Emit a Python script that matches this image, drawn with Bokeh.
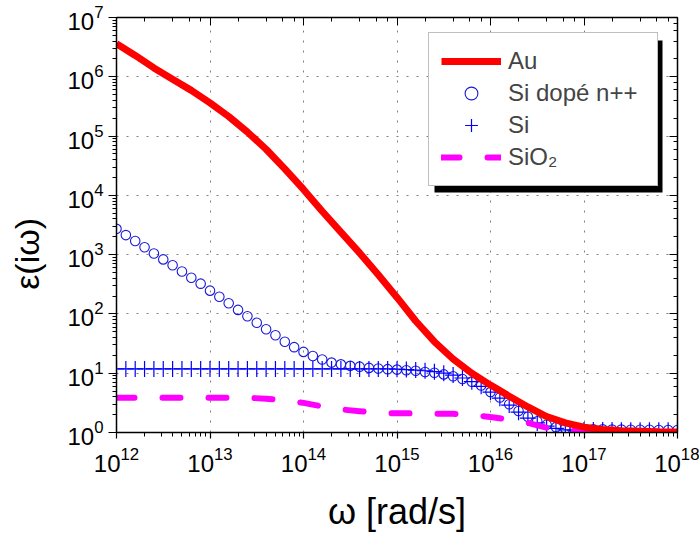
import numpy as np
from bokeh.plotting import figure
from bokeh.models import LogAxis, Legend, LegendItem, BoxAnnotation, Range1d
from bokeh.embed import file_html
from bokeh.resources import INLINE

# ---- data ----
# Au: exponents of omega (step 0.2 decade) and epsilon(i omega)
au_log_omega = [12.0, 12.2, 12.4, 12.6, 12.8, 13.0, 13.2, 13.4, 13.6, 13.8,
                14.0, 14.2, 14.4, 14.6, 14.8, 15.0, 15.2, 15.4, 15.6, 15.8,
                16.0, 16.2, 16.4, 16.6, 16.8, 17.0, 17.2, 17.4, 17.6, 17.8, 18.0]
au_eps = [3.63e6, 2.29e6, 1.41e6, 9.1e5, 5.9e5, 3.63e5, 2.14e5, 1.17e5, 6.0e4, 2.8e4,
          1.26e4, 5.4e3, 2.4e3, 1.07e3, 457, 190, 76, 34, 17.4, 10.0,
          6.3, 4.1, 2.7, 1.86, 1.45, 1.23, 1.12, 1.07, 1.05, 1.03, 1.02]

# Si dope n++ and Si: exponents of omega (step 0.1 decade)
si_log_omega = [12.0, 12.1, 12.2, 12.3, 12.4, 12.5, 12.6, 12.7, 12.8, 12.9,
                13.0, 13.1, 13.2, 13.3, 13.4, 13.5, 13.6, 13.7, 13.8, 13.9,
                14.0, 14.1, 14.2, 14.3, 14.4, 14.5, 14.6, 14.7, 14.8, 14.9,
                15.0, 15.1, 15.2, 15.3, 15.4, 15.5, 15.6, 15.7, 15.8, 15.9,
                16.0, 16.1, 16.2, 16.3, 16.4, 16.5, 16.6, 16.7, 16.8, 16.9,
                17.0, 17.1, 17.2, 17.3, 17.4, 17.5, 17.6, 17.7, 17.8, 17.9, 18.0]
sidop_eps = [2723, 2138, 1698, 1334, 1047, 832, 661, 519, 407, 324,
             247, 195, 151, 117, 91.2, 70.8, 55.0, 43.6, 33.9, 27.5,
             22.9, 19.5, 17.0, 15.1, 14.1, 13.3, 12.9, 12.3, 12.0, 11.7,
             11.5, 11.2, 11.0, 10.5, 10.2, 9.55, 8.9, 8.0, 7.2, 6.2,
             4.8, 3.9, 3.0, 2.3, 1.84, 1.55, 1.35, 1.23, 1.17, 1.15,
             1.14, 1.13, 1.13, 1.12, 1.12, 1.11, 1.11, 1.11, 1.10, 1.10, 1.10]
si_eps = [11.8, 11.8, 11.8, 11.8, 11.8, 11.8, 11.8, 11.8, 11.8, 11.8,
          11.8, 11.8, 11.8, 11.8, 11.8, 11.8, 11.8, 11.8, 11.8, 11.8,
          11.8, 11.8, 11.8, 11.8, 11.8, 11.8, 11.8, 11.8, 11.8, 11.8,
          11.7, 11.5, 11.3, 11.0, 10.6, 10.0, 9.3, 8.3, 7.2, 6.0,
          4.8, 3.8, 2.9, 2.2, 1.75, 1.45, 1.28, 1.17, 1.11, 1.10,
          1.10, 1.10, 1.10, 1.10, 1.09, 1.09, 1.09, 1.09, 1.09, 1.09, 1.09]

# SiO2: exponents of omega (step 0.2 decade)
sio2_log_omega = au_log_omega
sio2_eps = [3.85, 3.85, 3.85, 3.85, 3.85, 3.85, 3.85, 3.85, 3.72, 3.47,
            3.16, 2.75, 2.45, 2.29, 2.14, 2.11, 2.10, 2.08, 2.07, 2.00,
            1.82, 1.66, 1.45, 1.20, 1.11, 1.07, 1.05, 1.04, 1.03, 1.02, 1.02]

labels = ["Au", "Si dopé n++", "Si", "SiO₂"]
x_title = "ω [rad/s]"
y_title = "ε(iω)"

au_w = [10 ** v for v in au_log_omega]
si_w = [10 ** v for v in si_log_omega]
sio2_w = [10 ** v for v in sio2_log_omega]

FONT = "Liberation Sans"

p = figure(width=699, height=538, x_axis_type="log", y_axis_type="log",
           x_range=Range1d(1e12, 1e18), y_range=Range1d(1, 1e7),
           output_backend="svg", toolbar_location=None,
           min_border_left=116, min_border_right=22, min_border_top=17, min_border_bottom=106)
p.outline_line_color = None
p.background_fill_color = "white"
p.border_fill_color = "white"

for ax in (p.xaxis[0], p.yaxis[0]):
    ax.axis_line_width = 1.5
    ax.axis_line_color = "black"
    ax.major_tick_line_color = "black"
    ax.minor_tick_line_color = "black"
    ax.major_tick_line_width = 1.2
    ax.minor_tick_line_width = 1
    ax.major_tick_in = 0
    ax.minor_tick_in = 0
    ax.major_label_text_font = FONT
    ax.major_label_text_font_size = "24px"
    ax.major_label_text_color = "black"
    ax.axis_label_text_font = FONT
    ax.axis_label_text_font_style = "normal"
    ax.axis_label_text_color = "black"
p.xaxis.major_tick_out = 6
p.xaxis.minor_tick_out = 4
p.xaxis.major_label_standoff = 8
p.yaxis.major_tick_out = 8
p.yaxis.minor_tick_out = 4
p.yaxis.major_label_standoff = 5

p.xaxis.axis_label = x_title
p.xaxis.axis_label_text_font_size = "36px"
p.xaxis.axis_label_standoff = 16
p.yaxis.axis_label = y_title + "\u2003\u2002\u2009"
p.yaxis.axis_label_text_font_size = "34px"
p.yaxis.axis_label_standoff = 18

for loc in ("above", "right"):
    ax = LogAxis()
    ax.axis_line_width = 1.5
    ax.axis_line_color = "black"
    ax.major_tick_line_color = "black"
    ax.minor_tick_line_color = "black"
    ax.major_tick_in = 8
    ax.major_tick_out = 0
    ax.minor_tick_in = 4
    ax.minor_tick_out = 0
    ax.major_label_text_font_size = "2px"
    ax.major_label_text_alpha = 0
    ax.major_label_standoff = 0
    p.add_layout(ax, loc)

for g in (p.xgrid[0], p.ygrid[0]):
    g.grid_line_color = "#808080"
    g.grid_line_dash = "2 8"
    g.grid_line_width = 1
    g.minor_grid_line_color = None

r_dop = p.scatter(si_w, sidop_eps, marker="circle", size=9.5, fill_color=None,
                  line_color="#1a1ad8", line_width=1.1)
r_si = p.scatter(si_w, si_eps, marker="cross", size=16, line_color="#0000ff", line_width=1.2)
r_sio2 = p.line(sio2_w, sio2_eps, line_color="#ff00ff", line_width=6,
                line_dash="18 28", line_cap="round")
r_au = p.line(au_w, au_eps, line_color="#ff0000", line_width=7)

# legend shadow
shadow = BoxAnnotation(left=318, right=546, top=392, bottom=240,
                       left_units="screen", right_units="screen",
                       top_units="screen", bottom_units="screen",
                       fill_color="black", fill_alpha=1, line_color=None)
p.add_layout(shadow)

legend = Legend(items=[LegendItem(label=labels[0], renderers=[r_au]),
                       LegendItem(label=labels[1], renderers=[r_dop]),
                       LegendItem(label=labels[2], renderers=[r_si]),
                       LegendItem(label=labels[3], renderers=[r_sio2])],
                location=(312, 246), margin=0, padding=12, spacing=0,
                glyph_width=60, glyph_height=32, label_height=32, label_width=137,
                label_standoff=7, label_text_font=FONT, label_text_font_size="24px",
                border_line_color="#808080", border_line_width=1,
                background_fill_color="white", background_fill_alpha=1)
p.add_layout(legend)

open("out.html", "w").write(file_html(p, INLINE))
